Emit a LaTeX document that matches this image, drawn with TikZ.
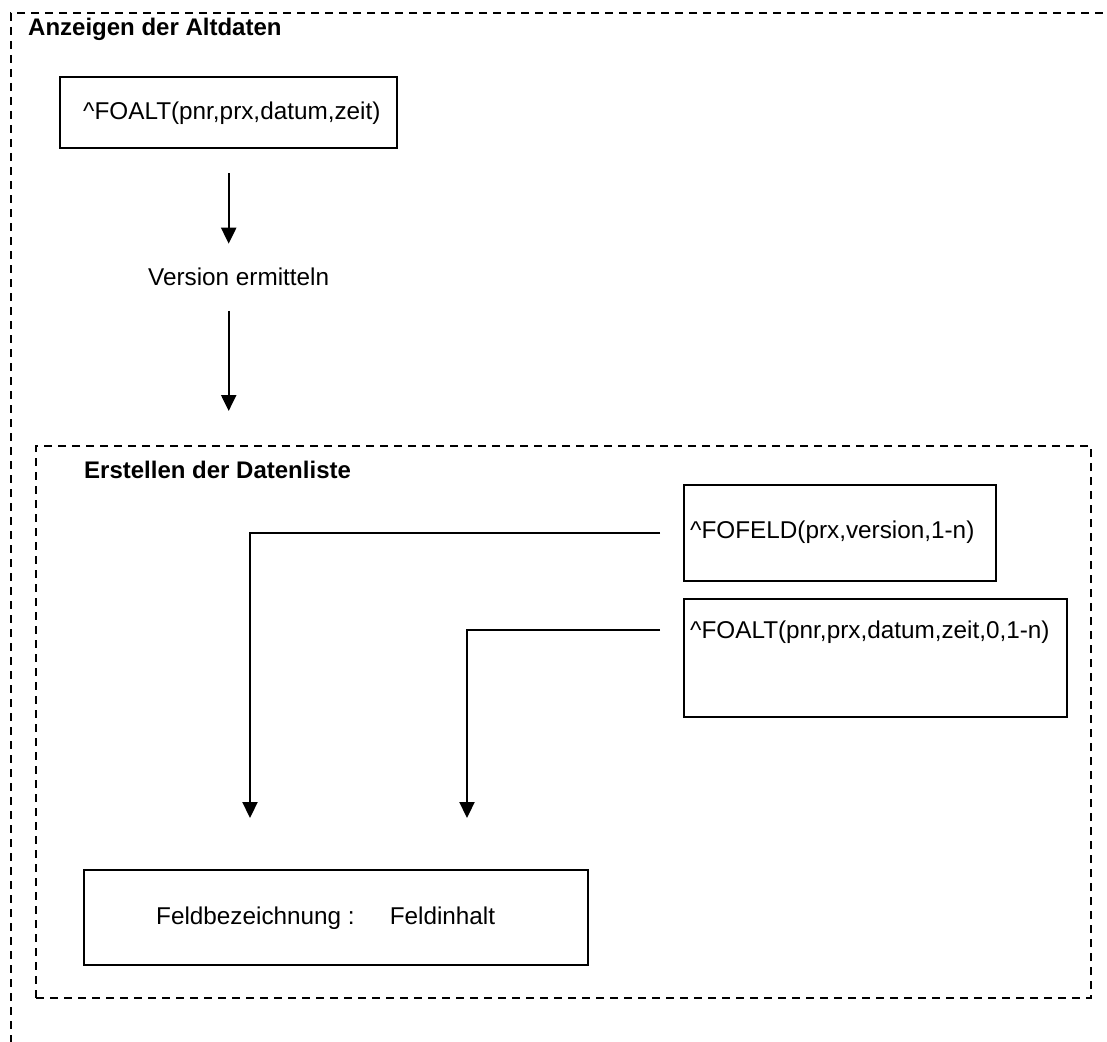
\documentclass[tikz,border=0pt]{standalone}
\usepackage{fontspec}
\setmainfont{Liberation Sans}
\usetikzlibrary{arrows.meta}
\begin{document}
\begin{tikzpicture}[x=1pt,y=-1pt,
  frame/.style={draw, line width=2pt, dash pattern=on 8pt off 6pt, inner sep=0pt, anchor=north west},
  box/.style={draw, line width=2.4pt, inner sep=0pt, anchor=north west},
  txt/.style={font=\fontsize{24.3}{29}\selectfont, inner sep=0pt, anchor=base west},
  ttl/.style={font=\fontsize{24}{29}\selectfont\bfseries, inner sep=0pt, anchor=base west},
  conn/.style={line width=2.2pt, -{Triangle[length=16pt,width=15pt]}}]
\useasboundingbox (0,0) rectangle (1107,1041);
\fill[white] (0,0) rectangle (1107,1041);
\begin{scope}
\clip (0,0) rectangle (1107,1041);
\node[frame, minimum width=1200pt, minimum height=1100pt] (outer) at (10,12) {};
\end{scope}
\node[ttl] (title1) at (28,36) {Anzeigen der Altdaten};
\node[box, minimum width=337pt, minimum height=71pt] (box1) at (59,76) {};
\node[txt] (box1txt) at (83,119.5) {\textasciicircum FOALT(pnr,prx,datum,zeit)};
\node[txt] (version) at (148,285.5) {Version ermitteln};
\node[frame, minimum width=1055pt, minimum height=552pt] (inner) at (35,445) {};
\node[ttl] (title2) at (84,478) {Erstellen der Datenliste};
\node[box, minimum width=312pt, minimum height=96pt] (fofeld) at (683,484) {};
\node[txt] (fofeldtxt) at (690,538) {\textasciicircum FOFELD(prx,version,1-n)};
\node[box, minimum width=383pt, minimum height=118pt] (foalt) at (683,598) {};
\node[txt] (folalttxt) at (690,638) {\textasciicircum FOALT(pnr,prx,datum,zeit,0,1-n)};
\node[box, minimum width=504pt, minimum height=95pt] (feld) at (83,869) {};
\node[txt] (feldtxt) at (156,924.5) {Feldbezeichnung :\hspace{35pt}Feldinhalt};
\draw[conn, shorten <=24pt, shorten >=24pt] (box1.south) -- (box1.south |- version.north);
\draw[conn, shorten <=25pt, shorten >=34pt] (box1.south |- version.south) -- (box1.south |- inner.north);
\draw[conn, shorten <=23pt, shorten >=51pt] (fofeld.west) -| ([xshift=167pt]feld.north west);
\draw[conn, shorten <=23pt, shorten >=51pt] ([yshift=-32pt]foalt.north west) -| ([xshift=384pt]feld.north west);
\end{tikzpicture}
\end{document}
